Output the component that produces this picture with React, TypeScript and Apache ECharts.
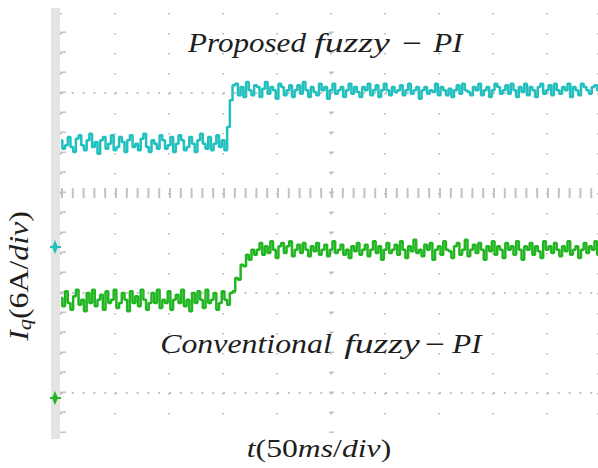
import React, { useEffect, useRef } from "react";
import * as echarts from "echarts";

// time step between samples (ms), 50 ms per division
const DT = 2.5;
const X_DIVS = [0, 50, 100, 150, 200, 250, 300, 350, 400, 450];

// Proposed fuzzy-PI (cyan), amps relative to its channel ground
const cyanLow = [
  6.4, 5.9, 6.1, 6.6, 6.0, 5.7, 6.5, 6.7, 6.1, 5.8,
  6.4, 6.8, 6.0, 6.3, 5.6, 6.4, 6.6, 5.9, 6.2, 6.7,
  5.8, 6.0, 6.6, 6.3, 5.7, 6.4, 6.7, 6.0, 6.2, 5.8,
  6.5, 6.8, 6.0, 5.7, 6.4, 6.2, 5.9, 6.7, 6.4, 5.9,
  6.1, 6.6, 5.7, 6.2, 6.7, 6.4, 5.8, 6.0, 6.6, 6.2,
  5.7, 6.4, 6.8, 6.2, 5.9, 6.6, 5.8, 6.2, 6.7, 6.0,
  6.4, 5.8,
];
const cyanRise = [7.2, 8.8, 9.7];
const cyanHigh = [
  9.8, 9.1, 9.6, 9.0, 9.9, 9.4, 9.1, 9.7, 9.6, 9.0,
  9.5, 9.9, 9.2, 9.6, 9.4, 8.9, 9.8, 9.6, 9.1, 9.4,
  9.7, 9.0, 9.4, 9.7, 9.2, 9.9, 9.4, 9.0, 9.6, 9.3,
  9.1, 9.8, 9.4, 9.6, 8.9, 9.4, 9.8, 9.2, 9.4, 9.6,
  9.0, 9.4, 9.8, 9.2, 9.6, 9.3, 9.0, 9.6, 9.4, 9.8,
  9.1, 9.4, 9.7, 9.0, 9.4, 9.8, 9.4, 9.1, 9.6, 9.3,
  9.4, 9.7, 9.1, 9.4, 9.8, 9.2, 9.4, 9.6, 8.9, 9.4,
  9.6, 9.2, 9.4, 9.3, 9.8, 9.1, 9.6, 9.4, 9.1, 9.5,
  9.0, 9.4, 9.7, 9.2, 9.8, 9.4, 9.3, 9.1, 9.6, 9.4,
  9.8, 9.1, 9.4, 9.6, 9.0, 9.4, 9.8, 9.6, 9.2, 9.4,
  9.7, 9.2, 9.8, 9.4, 9.0, 9.6, 9.3, 9.8, 9.1, 9.6,
  9.4, 9.0, 9.6, 9.8, 9.2, 9.4, 9.7, 9.1, 9.8, 9.4,
  9.2, 9.6, 9.4, 9.8, 9.0, 9.6, 9.4, 9.1, 9.8, 9.6,
  9.4, 9.2, 9.6, 9.7, 9.4,
];

// Conventional fuzzy-PI (green), amps relative to its channel ground
const greenLow = [
  6.0, 5.5, 6.4, 5.7, 5.3, 6.1, 6.5, 5.6, 5.9, 5.2,
  6.3, 5.7, 6.5, 5.5, 5.9, 6.2, 5.3, 6.4, 5.7, 5.9,
  6.5, 5.4, 5.7, 6.3, 5.9, 5.2, 6.4, 5.7, 6.1, 5.5,
  6.5, 5.9, 5.3, 5.7, 6.3, 5.7, 6.5, 5.4, 5.9, 5.7,
  6.4, 5.3, 5.9, 6.2, 5.7, 6.5, 5.5, 5.9, 5.2, 6.3,
  5.7, 6.4, 5.9, 5.4, 6.5, 5.7, 5.9, 6.3, 5.3, 5.7,
  6.4, 5.9, 5.6,
];
const greenRise = [6.3, 6.4, 7.2, 7.1, 8.0, 7.9, 8.6, 8.3, 8.9, 8.6];
const greenHigh = [
  8.9, 9.3, 8.6, 9.1, 8.7, 9.4, 8.9, 8.4, 9.1, 9.3,
  8.7, 9.1, 9.4, 8.5, 8.9, 9.2, 8.7, 9.3, 8.9, 8.5,
  9.1, 8.8, 9.3, 8.6, 8.9, 9.2, 8.5, 8.9, 9.4, 8.7,
  8.9, 9.2, 8.6, 8.9, 8.4, 9.1, 8.8, 9.3, 8.6, 8.9,
  9.2, 8.5, 8.9, 9.4, 8.7, 9.1, 8.3, 8.9, 9.3, 8.7,
  8.9, 9.2, 8.6, 9.4, 8.9, 8.4, 9.1, 8.8, 9.5, 8.7,
  8.9, 8.5, 9.2, 8.9, 9.3, 8.3, 8.9, 9.1, 8.6, 9.4,
  8.9, 8.8, 8.4, 9.1, 9.3, 8.6, 8.9, 9.5, 8.5, 8.9,
  9.2, 8.7, 9.3, 8.9, 8.3, 9.1, 8.8, 9.4, 8.6, 9.1,
  8.9, 8.4, 9.3, 8.9, 9.1, 8.6, 9.4, 8.9, 8.3, 9.1,
  8.9, 9.3, 8.6, 9.1, 8.8, 8.4, 9.4, 8.9, 9.1, 8.7,
  9.3, 8.9, 8.5, 9.1, 8.8, 9.4, 8.6, 8.9, 9.1, 8.4,
  8.9, 9.3, 8.7, 9.1, 8.9, 9.4, 8.6,
];

// horizontal graticule rows (in divisions)
const DOTTED_ROWS = [0, 1, 3];
const CENTER_ROW = 2;

const CYAN = "#22bfbf";
const GREEN = "#22b522";
const GRID_GRAY = "#c2c2c2";
const FONT = "Liberation Serif, Times New Roman, serif";
const INK = "#1e1e1e";

function toPoints(vals: number[]) {
  return vals.map((v, i) => [i * DT, v]);
}

function word(text: string, cx: number, baseline: number, italic: boolean, sx: number, size = 27) {
  return {
    type: "text",
    x: cx,
    y: baseline - size * 0.34,
    scaleX: sx,
    style: {
      text,
      fontFamily: FONT,
      fontStyle: italic ? "italic" : "normal",
      fontSize: size,
      fill: INK,
      align: "center",
      verticalAlign: "middle",
    },
    z: 10,
  };
}

export default function App() {
  const ref = useRef<HTMLDivElement>(null);
  useEffect(() => {
    if (!ref.current) return;
    const chart = echarts.init(ref.current, null, { renderer: "svg" });
    const cyan = toPoints([...cyanLow, ...cyanRise, ...cyanHigh]);
    const green = toPoints([...greenLow, ...greenRise, ...greenHigh]);
    const dotStyle = { color: GRID_GRAY, width: 2, type: [2, 8.8] as any };
    chart.setOption({
      animation: false,
      backgroundColor: "#ffffff",
      grid: { left: 61, top: 13, width: 537, height: 420, containLabel: false },
      xAxis: {
        type: "value",
        min: 0,
        max: 497,
        interval: 50,
        axisLine: { show: false },
        axisTick: { show: false },
        axisLabel: { show: false },
        splitLine: {
          show: true,
          lineStyle: { color: GRID_GRAY, width: 2, type: [1.6, 18.4] },
        },
      },
      yAxis: [
        { type: "value", min: -0.4, max: 3.8, show: false, splitLine: { show: false } },
        { type: "value", min: -2.1, max: 23.1, show: false, splitLine: { show: false } },
        { type: "value", min: -11.16, max: 14.04, show: false, splitLine: { show: false } },
      ],
      series: [
        {
          type: "line",
          yAxisIndex: 0,
          data: [[0, -1]],
          showSymbol: false,
          symbol: "none",
          lineStyle: { opacity: 0 },
          silent: true,
          markLine: {
            silent: true,
            symbol: ["none", "none"],
            label: { show: false },
            animation: false,
            data: [
              ...DOTTED_ROWS.map((r) => ({ yAxis: r, lineStyle: dotStyle })),
              {
                yAxis: CENTER_ROW,
                lineStyle: { color: GRID_GRAY, width: 10, type: [2, 8.8] as any },
              },
              {
                xAxis: X_DIVS[5],
                lineStyle: { color: GRID_GRAY, width: 5, type: [1.6, 18.4] as any },
              },
              {
                xAxis: 2,
                lineStyle: { color: GRID_GRAY, width: 6, type: [1.6, 18.4] as any },
              },
            ],
          },
        },
        {
          name: "Proposed fuzzy-PI",
          type: "line",
          yAxisIndex: 2,
          data: cyan,
          step: "middle",
          showSymbol: false,
          symbol: "none",
          lineStyle: { color: CYAN, width: 2.5 },
          z: 5,
        },
        {
          name: "Conventional fuzzy-PI",
          type: "line",
          yAxisIndex: 1,
          data: green,
          step: "middle",
          showSymbol: false,
          symbol: "none",
          lineStyle: { color: GREEN, width: 2.5 },
          z: 5,
        },
      ],
      graphic: [
        { type: "rect", shape: { x: 51, y: 8, width: 9, height: 431 }, style: { fill: "#e4e4e4" }, z: 0 },
        { type: "line", shape: { x1: 50, y1: 247, x2: 61, y2: 247 }, style: { stroke: CYAN, lineWidth: 2 } },
        { type: "polygon", shape: { points: [[55, 240], [58, 247], [55, 254], [52, 247]] }, style: { fill: CYAN } },
        { type: "line", shape: { x1: 50, y1: 398, x2: 61, y2: 398 }, style: { stroke: GREEN, lineWidth: 2 } },
        { type: "polygon", shape: { points: [[55, 391], [58, 398], [55, 405], [52, 398]] }, style: { fill: GREEN } },
        word("Proposed", 247, 52, true, 1.15),
        word("fuzzy", 352, 52, true, 1.4),
        word("\u2212", 412, 52, false, 1.3),
        word("PI", 448, 52, true, 1.15),
        word("Conventional", 246, 353, true, 1.18),
        word("fuzzy", 382, 353, true, 1.4),
        word("\u2212", 435, 353, false, 1.3),
        word("PI", 467, 353, true, 1.15),
        {
          type: "text",
          x: 319,
          y: 448,
          scaleX: 1.22,
          style: {
            text: "{it|t}{rm|(50}{it|ms}{rm|/}{it|div}{rm|)}",
            fill: INK,
            align: "center",
            verticalAlign: "middle",
            rich: {
              it: { fontFamily: FONT, fontStyle: "italic", fontSize: 26, fill: INK, lineHeight: 30 },
              rm: { fontFamily: FONT, fontStyle: "normal", fontSize: 26, fill: INK, lineHeight: 30 },
            },
          },
          z: 10,
        },
        {
          type: "text",
          x: 19,
          y: 276,
          rotation: Math.PI / 2,
          scaleX: 1.18,
          style: {
            text: "{it|I}{sub|q}{rm|(6A/}{it|div}{rm|)}",
            fill: INK,
            align: "center",
            verticalAlign: "middle",
            rich: {
              it: { fontFamily: FONT, fontStyle: "italic", fontSize: 27, fill: INK, lineHeight: 30, verticalAlign: "middle" },
              rm: { fontFamily: FONT, fontStyle: "normal", fontSize: 27, fill: INK, lineHeight: 30, verticalAlign: "middle" },
              sub: { fontFamily: FONT, fontStyle: "italic", fontSize: 19, fill: INK, lineHeight: 16, verticalAlign: "bottom" },
            },
          },
          z: 10,
        },
      ],
    });
    return () => chart.dispose();
  }, []);
  return (
    <div
      ref={ref}
      style={{ position: "fixed", left: 0, top: 0, width: 598, height: 468, background: "#fff" }}
    />
  );
}
